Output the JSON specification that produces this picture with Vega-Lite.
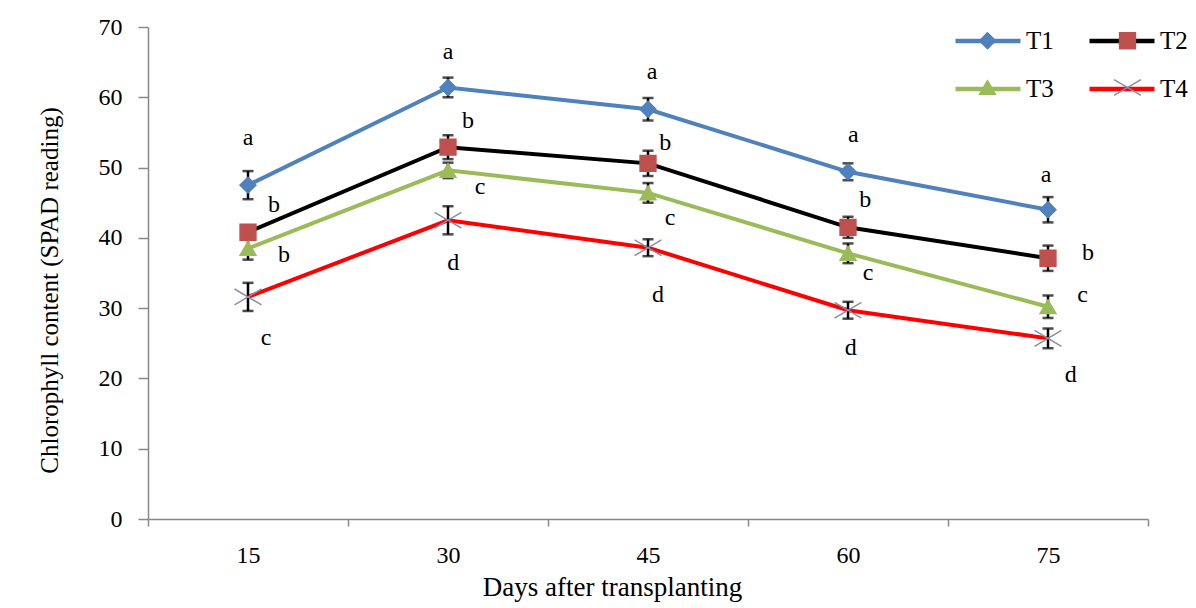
{
  "$schema": "https://vega.github.io/schema/vega-lite/v6.json",
  "autosize": "none",
  "width": 1000,
  "height": 492,
  "padding": {"left": 148, "top": 27, "right": 48, "bottom": 89},
  "background": "white",
  "config": {"view": {"stroke": null}, "font": "Liberation Serif", "axis": {"grid": false}},
  "data": {"values": [
    {"T": "T1", "day": 15, "v": 47.5, "se": 2.0},
    {"T": "T1", "day": 30, "v": 61.4, "se": 1.4},
    {"T": "T1", "day": 45, "v": 58.3, "se": 1.6},
    {"T": "T1", "day": 60, "v": 49.4, "se": 1.2},
    {"T": "T1", "day": 75, "v": 44.0, "se": 1.8},
    {"T": "T2", "day": 15, "v": 40.8, "se": 1.0},
    {"T": "T2", "day": 30, "v": 52.9, "se": 1.7},
    {"T": "T2", "day": 45, "v": 50.6, "se": 1.8},
    {"T": "T2", "day": 60, "v": 41.5, "se": 1.5},
    {"T": "T2", "day": 75, "v": 37.1, "se": 1.8},
    {"T": "T3", "day": 15, "v": 38.5, "se": 1.6},
    {"T": "T3", "day": 30, "v": 49.6, "se": 1.1},
    {"T": "T3", "day": 45, "v": 46.4, "se": 1.4},
    {"T": "T3", "day": 60, "v": 37.8, "se": 1.4},
    {"T": "T3", "day": 75, "v": 30.2, "se": 1.6},
    {"T": "T4", "day": 15, "v": 31.6, "se": 2.0},
    {"T": "T4", "day": 30, "v": 42.5, "se": 2.0},
    {"T": "T4", "day": 45, "v": 38.6, "se": 1.2},
    {"T": "T4", "day": 60, "v": 29.7, "se": 1.2},
    {"T": "T4", "day": 75, "v": 25.7, "se": 1.4}
  ]},
  "layer": [
    {
      "mark": {"type": "line", "strokeWidth": 4},
      "encoding": {
        "x": {"field": "day", "type": "quantitative", "title": "Days after transplanting",
          "scale": {"domain": [7.5, 82.5], "nice": false, "zero": false},
          "axis": {
            "values": [7.5, 15, 22.5, 30, 37.5, 45, 52.5, 60, 67.5, 75, 82.5],
            "tickSize": 7,
            "tickColor": "#888888",
            "tickOpacity": {"condition": {"test": "datum.value % 15 === 0", "value": 0}, "value": 1},
            "domainColor": "#888888",
            "domainWidth": 1.5,
            "tickWidth": 1.5,
            "labelExpr": "datum.value % 15 === 0 ? format(datum.value, 'd') : ''",
            "labelBaseline": "alphabetic",
            "labelPadding": 36,
            "labelFont": "Liberation Serif",
            "labelFontSize": 24,
            "labelColor": "black",
            "labelOverlap": false,
            "labelFlush": false,
            "titleFont": "Liberation Serif",
            "titleFontSize": 27,
            "titleFontWeight": "normal",
            "titleColor": "black",
            "titleX": 464,
            "titleY": 76,
            "titleAlign": "center",
            "titleAnchor": null,
            "titleBaseline": "alphabetic"
          }
        },
        "y": {"field": "v", "type": "quantitative", "title": "Chlorophyll content (SPAD reading)",
          "scale": {"domain": [0, 70], "nice": false},
          "axis": {
            "values": [0, 10, 20, 30, 40, 50, 60, 70],
            "tickSize": 10,
            "tickColor": "#888888",
            "tickWidth": 1.5,
            "domainColor": "#888888",
            "domainWidth": 1.5,
            "labelPadding": 16,
            "labelFont": "Liberation Serif",
            "labelFontSize": 24,
            "labelColor": "black",
            "titleFont": "Liberation Serif",
            "titleFontSize": 25,
            "titleFontWeight": "normal",
            "titleColor": "black",
            "titleX": -91,
            "titleY": 263,
            "titleAngle": -90,
            "titleAlign": "center",
            "titleAnchor": null,
            "titleBaseline": "alphabetic"
          }
        },
        "color": {"field": "T", "type": "nominal",
          "scale": {"domain": ["T1", "T2", "T3", "T4"], "range": ["#4F81BD", "#000000", "#9BBB59", "#FF0000"]},
          "legend": {"orient": "none", "legendX": 805, "legendY": -21, "columns": 2, "direction": "horizontal", "title": null,
            "symbolType": "stroke", "symbolSize": 4225, "symbolStrokeWidth": 4.5,
            "labelFont": "Liberation Serif", "labelFontSize": 25, "labelColor": "black",
            "labelOffset": 3, "columnPadding": 26, "rowPadding": -1, "padding": 0}
        }
      }
    },
    {
      "mark": {"type": "errorbar", "ticks": {"size": 11, "thickness": 2.5, "color": "black"}, "rule": {"strokeWidth": 2.5, "color": "black"}},
      "encoding": {
        "x": {"field": "day", "type": "quantitative", "title": "Days after transplanting"},
        "y": {"field": "v", "type": "quantitative", "title": "Chlorophyll content (SPAD reading)"},
        "yError": {"field": "se"}
      }
    },
    {
      "mark": {"type": "point", "filled": true, "size": 250, "strokeWidth": 1.5, "opacity": 1},
      "encoding": {
        "x": {"field": "day", "type": "quantitative", "title": "Days after transplanting"},
        "y": {"field": "v", "type": "quantitative", "title": "Chlorophyll content (SPAD reading)"},
        "shape": {"field": "T", "type": "nominal",
          "scale": {"range": ["diamond", "square", "triangle-up", "M-1.7,-1L1.7,1M-1.7,1L1.7,-1"]},
          "legend": {"orient": "none", "legendX": 827, "legendY": 1, "columns": 2, "direction": "horizontal", "title": null,
            "symbolSize": 250, "symbolStrokeWidth": 1.5,
            "labelFont": "Liberation Serif", "labelFontSize": 25, "labelOpacity": 0,
            "labelOffset": 52.2, "columnPadding": 31, "rowPadding": 21, "padding": 0}},
        "fill": {"field": "T", "type": "nominal",
          "scale": {"range": ["#4F81BD", "#C0504D", "#9BBB59", "#9A9AB8"]},
          "legend": {"orient": "none", "legendX": 827, "legendY": 1, "columns": 2, "direction": "horizontal", "title": null,
            "symbolSize": 250, "symbolStrokeWidth": 1.5,
            "labelFont": "Liberation Serif", "labelFontSize": 25, "labelOpacity": 0,
            "labelOffset": 52.2, "columnPadding": 31, "rowPadding": 21, "padding": 0}},
        "stroke": {"field": "T", "type": "nominal",
          "scale": {"range": ["#4F81BD", "#C0504D", "#9BBB59", "#8C8CAA"]},
          "legend": {"orient": "none", "legendX": 827, "legendY": 1, "columns": 2, "direction": "horizontal", "title": null,
            "symbolSize": 250, "symbolStrokeWidth": 1.5,
            "labelFont": "Liberation Serif", "labelFontSize": 25, "labelOpacity": 0,
            "labelOffset": 52.2, "columnPadding": 31, "rowPadding": 21, "padding": 0}}
      }
    },
    {
      "data": {"values": [
        {"L": "a", "lx": 15.0, "ly": 54.2},
        {"L": "b", "lx": 16.95, "ly": 44.7},
        {"L": "b", "lx": 17.7, "ly": 37.6},
        {"L": "c", "lx": 16.35, "ly": 25.7},
        {"L": "a", "lx": 30.0, "ly": 66.4},
        {"L": "b", "lx": 31.5, "ly": 56.6},
        {"L": "c", "lx": 32.4, "ly": 47.2},
        {"L": "d", "lx": 30.4, "ly": 36.4},
        {"L": "a", "lx": 45.3, "ly": 63.6},
        {"L": "b", "lx": 46.3, "ly": 53.5},
        {"L": "c", "lx": 46.65, "ly": 42.8},
        {"L": "d", "lx": 45.75, "ly": 31.9},
        {"L": "a", "lx": 60.4, "ly": 54.6},
        {"L": "b", "lx": 61.3, "ly": 45.4},
        {"L": "c", "lx": 61.5, "ly": 35.0},
        {"L": "d", "lx": 60.2, "ly": 24.3},
        {"L": "a", "lx": 74.85, "ly": 48.9},
        {"L": "b", "lx": 78.0, "ly": 37.8},
        {"L": "c", "lx": 77.6, "ly": 31.9},
        {"L": "d", "lx": 76.7, "ly": 20.5}
      ]},
      "mark": {"type": "text", "font": "Liberation Serif", "fontSize": 24, "baseline": "middle", "align": "center", "color": "black"},
      "encoding": {
        "x": {"field": "lx", "type": "quantitative", "title": "Days after transplanting"},
        "y": {"field": "ly", "type": "quantitative", "title": "Chlorophyll content (SPAD reading)"},
        "text": {"field": "L"}
      }
    }
  ]
}
